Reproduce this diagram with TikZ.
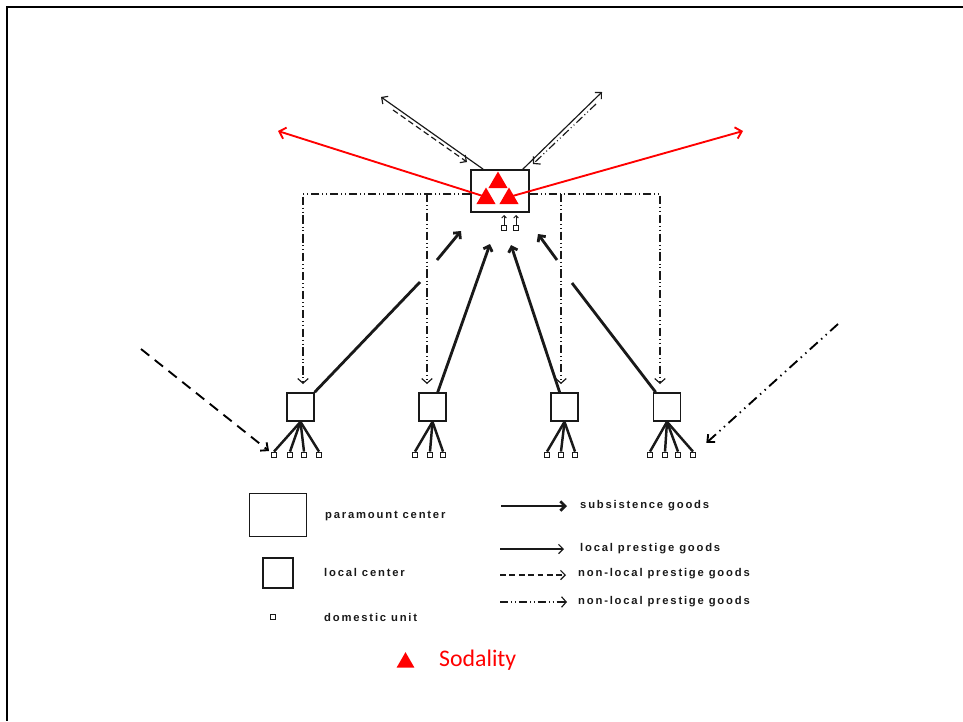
\documentclass[tikz,border=0pt]{standalone}
\usepackage{fontspec}
\setmainfont{Liberation Sans}
\newfontfamily\legendfont[LetterSpace=16]{Liberation Sans}
\newfontfamily\sodfont{Carlito}
\usetikzlibrary{arrows.meta,shapes.geometric}

\definecolor{ink}{RGB}{25,25,25}

\tikzset{
  frameline/.style={line width=1.7pt, black},
  pbox/.style={draw=ink, line width=1.4pt, minimum width=1.74cm, minimum height=1.26cm, inner sep=0pt},
  lbox/.style={draw=ink, line width=1.4pt, minimum width=0.81cm, minimum height=0.84cm, inner sep=0pt},
  dunit/.style={draw=ink, line width=1pt, minimum size=0.17cm, inner sep=0pt},
  sodtri/.style={regular polygon, regular polygon sides=3, fill=red, inner sep=0pt, minimum size=0.66cm},
  fan/.style={draw=ink, line width=2.1pt},
  subsline/.style={draw=ink, line width=2.4pt},
  subs/.style={subsline, -{Straight Barb[length=4pt,width=8pt]}},
  thinarr/.style={draw=ink, line width=1pt, -{Straight Barb[length=4pt,width=8pt]}},
  dasharr/.style={draw=ink, line width=1pt, dash pattern=on 5pt off 3pt, -{Straight Barb[length=4pt,width=8pt]}},
  ddot/.style={draw=ink, line width=1pt, dash pattern=on 7pt off 2.5pt on 0.8pt off 2.5pt on 0.8pt off 2.5pt},
  ddotarr/.style={ddot, -{Straight Barb[length=4pt,width=9pt]}},
  bigdash/.style={draw=black, line width=1.6pt, dash pattern=on 9pt off 6pt, -{Straight Barb[length=5pt,width=9pt]}},
  bigddot/.style={draw=black, line width=1.6pt, dash pattern=on 9pt off 4pt on 1.2pt off 4pt on 1.2pt off 4pt, -{Straight Barb[length=5pt,width=9pt]}},
  tinyarr/.style={draw=ink, line width=0.8pt, -{Straight Barb[length=2pt,width=4pt]}},
  redarr/.style={draw=red, line width=1.6pt, -{Straight Barb[length=5pt,width=10pt]}},
  legtext/.style={anchor=west, inner sep=0pt, text=ink, font=\legendfont\bfseries\fontsize{9.6}{11}\selectfont},
}

\begin{document}
\begin{tikzpicture}[x=0.03cm,y=-0.03cm]
\useasboundingbox (0,0) rectangle (963,721);
\draw[frameline] (963,7) -- (7,7) -- (7,721);

% paramount center and local centers
\node[pbox] (pc) at (500,191) {};
\node[lbox] (lc1) at (300.5,407) {};
\node[lbox] (lc2) at (432.5,407) {};
\node[lbox] (lc3) at (564.5,407) {};
\node[lbox] (lc4) at (667,407) {};

% domestic units under each local center
\foreach \x [count=\i] in {274,290,304,319} {
  \node[dunit] (a\i) at (\x,455) {};
  \draw[fan] (lc1.south) -- (a\i.north);
}
\foreach \x [count=\i] in {415,430,443} {
  \node[dunit] (b\i) at (\x,455) {};
  \draw[fan] (lc2.south) -- (b\i.north);
}
\foreach \x [count=\i] in {547,561,575} {
  \node[dunit] (c\i) at (\x,455) {};
  \draw[fan] (lc3.south) -- (c\i.north);
}
\foreach \x [count=\i] in {650,665,678,693} {
  \node[dunit] (e\i) at (\x,455) {};
  \draw[fan] (lc4.south) -- (e\i.north);
}

% domestic units attached to the paramount center
\node[dunit] (pu1) at (504,228) {};
\node[dunit] (pu2) at (516,228) {};
\coordinate (pu1t) at (504,215);
\coordinate (pu2t) at (516,215);
\draw[tinyarr] (pu1.north) -- (pu1t);
\draw[tinyarr] (pu2.north) -- (pu2t);

% redistribution from the paramount center (dash-dot)
\coordinate (pl) at ([yshift=-0.09cm]pc.west);
\coordinate (pr) at ([yshift=-0.09cm]pc.east);
\coordinate (d1) at (303,384);
\coordinate (d2) at (427,384);
\coordinate (d3) at (561,384);
\coordinate (d4) at (660,384);
\draw[ddotarr] (pl) -| (d1);
\draw[ddotarr] (d2 |- pl) -- (d2);
\draw[ddotarr] (pr) -| (d4);
\draw[ddotarr] (d3 |- pr) -- (d3);

% subsistence goods flowing up
\coordinate (s1a) at (420,282);
\coordinate (s1b) at (437,260);
\coordinate (s1t) at (461,231);
\coordinate (s2t) at (490,244);
\coordinate (s3t) at (511,245);
\coordinate (s4a) at (572,283);
\coordinate (s4b) at (557,260);
\coordinate (s4t) at (538,234);
\draw[subsline] (lc1) -- (s1a);
\draw[subs] (s1b) -- (s1t);
\draw[subs] (lc2) -- (s2t);
\draw[subs] (lc3) -- (s3t);
\draw[subsline] (lc4) -- (s4a);
\draw[subs] (s4b) -- (s4t);

% exchange with other paramount centers
\coordinate (tl) at (381,97);
\coordinate (tld1) at (393,110);
\coordinate (tld2) at (467,162);
\coordinate (tr) at (602,92);
\coordinate (trd1) at (596,104);
\coordinate (trd2) at (533,164);
\draw[thinarr] ([xshift=0.39cm]pc.north west) -- (tl);
\draw[dasharr] (tld1) -- (tld2);
\draw[thinarr] ([xshift=-0.21cm]pc.north east) -- (tr);
\draw[ddotarr] (trd1) -- (trd2);

% goods entering the outer domestic units
\coordinate (xl) at (141,349);
\coordinate (xr) at (838,324);
\draw[bigdash, shorten >=0.06cm] (xl) -- (a1);
\draw[bigddot, shorten >=0.4cm] (xr) -- (e4);

% sodality links
\node[sodtri] (t1) at (498,182.5) {};
\coordinate (rl) at (278,131);
\coordinate (rr) at (743,131);
\coordinate (t2c) at (486,197);
\coordinate (t3c) at (509,197);
\draw[redarr] (t2c) -- (rl);
\draw[redarr] (t3c) -- (rr);
\node[sodtri] (t2) at (486,198.5) {};
\node[sodtri] (t3) at (509,198.5) {};

% legend: shapes
\node[pbox, minimum width=1.71cm, minimum height=1.29cm] (lgp) at (278,515) {};
\node[legtext] (lgpt) at (325,516) {paramount center};
\node[lbox, minimum width=0.9cm, minimum height=0.9cm] (lgl) at (278,573) {};
\node[legtext] (lglt) at (324,572) {local center};
\node[dunit] (lgd) at (273,617) {};
\node[legtext] (lgdt) at (324,617) {domestic unit};

% legend: connectors
\coordinate (la1) at (501,506); \coordinate (la2) at (567,506);
\coordinate (lb1) at (500,549); \coordinate (lb2) at (564,549);
\coordinate (lc1a) at (500,575); \coordinate (lc2a) at (566,575);
\coordinate (ld1) at (500,602); \coordinate (ld2) at (567,602);
\draw[subs] (la1) -- (la2);
\draw[thinarr] (lb1) -- (lb2);
\draw[dasharr] (lc1a) -- (lc2a);
\draw[ddotarr] (ld1) -- (ld2);
\node[legtext] (lat) at (580,506) {subsistence goods};
\node[legtext] (lbt) at (580,549) {local prestige goods};
\node[legtext] (lct) at (578,574) {non-local prestige goods};
\node[legtext] (ldt) at (578,602) {non-local prestige goods};

% legend: sodality
\node[sodtri, minimum size=0.62cm] (lgs) at (405.5,662.5) {};
\node[anchor=west, inner sep=0pt, text=red, font=\sodfont\fontsize{20.3}{24}\selectfont] (lgst) at (439,660) {Sodality};
\end{tikzpicture}
\end{document}
